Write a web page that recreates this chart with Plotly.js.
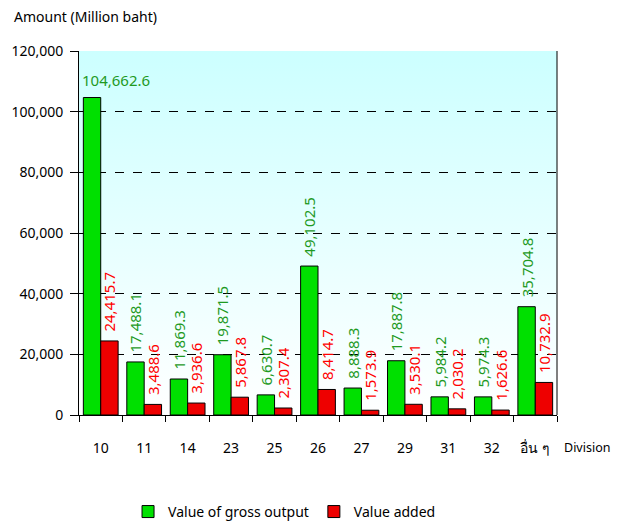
<!DOCTYPE html>
<html>
<head>
<meta charset="utf-8">
<script src="https://cdn.plot.ly/plotly-3.0.1.min.js"></script>
<style>html,body{margin:0;padding:0;background:#fff;}#chart{width:620px;height:524px;}</style>
</head>
<body>
<div id="chart"></div>
<script>
const divisions = ["10","11","14","23","25","26","27","29","31","32","อื่น ๆ"];
const grossOutput = [104662.6, 17488.1, 11869.3, 19871.5, 6630.7, 49102.5, 8888.3, 17887.8, 5984.2, 5974.3, 35704.8];
const valueAdded = [24415.7, 3488.6, 3936.6, 5867.8, 2307.4, 8414.7, 1573.9, 3530.1, 2030.2, 1626.6, 10732.9];
const yTickVals = [0, 20000, 40000, 60000, 80000, 100000, 120000];
const yTickText = ["0","20,000","40,000","60,000","80,000","100,000","120,000"];

const FONT = "Noto Sans, DejaVu Sans, sans-serif";
const fmt = v => v.toLocaleString("en-US", {minimumFractionDigits:1, maximumFractionDigits:1});
const PAD = "\u00a0\u2009"; // small visual gap between bar top and rotated label

// first gross-output label is drawn horizontally (too tall to fit rotated)
const grossText = grossOutput.map((v,i) => i === 0 ? "" : PAD + fmt(v));
const addedText = valueAdded.map(v => PAD + fmt(v));

const traces = [
  {
    type: "bar", name: "Value of gross output", x: divisions, y: grossOutput,
    marker: {color: "#00e000", line: {color: "#000", width: 1}},
    text: grossText, textposition: "outside", textangle: -90, cliponaxis: false, constraintext: "none",
    textfont: {family: FONT, size: 15, color: "#1f9a1f"}, hoverinfo: "y"
  },
  {
    type: "bar", name: "Value added", x: divisions, y: valueAdded,
    marker: {color: "#ee0000", line: {color: "#000", width: 1}},
    text: addedText, textposition: "outside", textangle: -90, cliponaxis: false, constraintext: "none",
    textfont: {family: FONT, size: 15, color: "#ff0000"}, hoverinfo: "y"
  }
];

const bgSvg = '<svg xmlns="http://www.w3.org/2000/svg" width="100" height="100" preserveAspectRatio="none">' +
  '<defs><linearGradient id="g" x1="0" y1="0" x2="0" y2="1">' +
  '<stop offset="0" stop-color="#ccffff"/><stop offset="1" stop-color="#ffffff"/></linearGradient></defs>' +
  '<rect width="100" height="100" fill="url(#g)"/></svg>';

const layout = {
  width: 620, height: 524,
  margin: {l: 79, r: 63, t: 51, b: 109},
  paper_bgcolor: "#ffffff", plot_bgcolor: "rgba(0,0,0,0)",
  font: {family: FONT, size: 14, color: "#000"},
  barmode: "group", bargap: 0.2, bargroupgap: 0,
  showlegend: true,
  legend: {orientation: "h", xref: "paper", x: 0.43, xanchor: "center",
           yref: "container", y: 0.023, yanchor: "middle",
           font: {family: FONT, size: 14, color: "#000"}, itemwidth: 30, traceorder: "normal"},
  xaxis: {
    type: "category", range: [-0.5, divisions.length - 0.5], autorange: false,
    tickson: "boundaries", ticks: "outside", ticklen: 6, tickcolor: "#000",
    showline: true, linecolor: "#000", linewidth: 1, showgrid: false,
    tickfont: {family: FONT, size: 14, color: "#000"}, ticklabelstandoff: 20
  },
  yaxis: {
    range: [0, 120000], tickvals: yTickVals, ticktext: yTickText,
    ticks: "outside", ticklen: 8, tickcolor: "#000",
    showline: true, linecolor: "#000", linewidth: 1,
    showgrid: true, gridcolor: "#000", griddash: "dash", gridwidth: 1,
    zeroline: false, tickfont: {family: FONT, size: 14, color: "#000"}, ticklabelstandoff: 4
  },
  images: [{
    source: "data:image/svg+xml;charset=utf-8," + encodeURIComponent(bgSvg),
    xref: "paper", yref: "paper", x: 0, y: 1, sizex: 1, sizey: 1,
    sizing: "stretch", layer: "below", xanchor: "left", yanchor: "top"
  }],
  shapes: [
    {type: "line", xref: "paper", yref: "paper", x0: 1, x1: 1, y0: 0, y1: 1, line: {color: "#000", width: 1}}
  ],
  annotations: [
    {text: "Amount (Million baht)", xref: "paper", yref: "paper", x: -0.14, y: 1.096,
     xanchor: "left", yanchor: "middle", showarrow: false, font: {family: FONT, size: 14, color: "#000"}},
    {text: "Division", xref: "paper", yref: "paper", x: 1.01, y: -0.09,
     xanchor: "left", yanchor: "middle", showarrow: false, font: {family: FONT, size: 12.5, color: "#000"}},
    {text: fmt(grossOutput[0]), x: 0, y: grossOutput[0], xref: "x", yref: "y",
     xshift: -21, yshift: 6, xanchor: "left", yanchor: "bottom", showarrow: false,
     font: {family: FONT, size: 15, color: "#1f9a1f"}}
  ]
};

Plotly.newPlot("chart", traces, layout, {displayModeBar: false, staticPlot: true});
</script>
</body>
</html>
